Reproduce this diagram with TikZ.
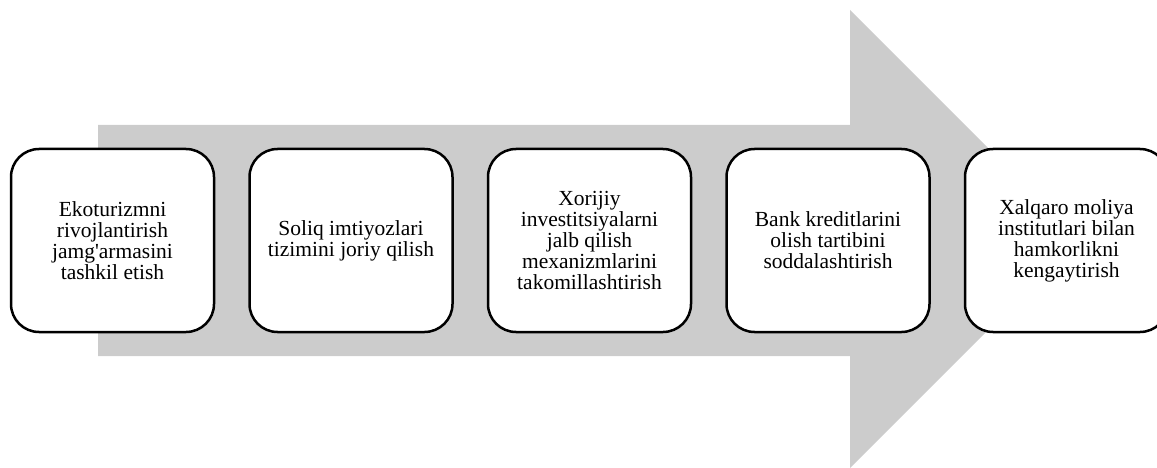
\documentclass[tikz,border=0pt]{standalone}
\usepackage{fontspec}
\setmainfont{Liberation Serif}
\usetikzlibrary{positioning}

\begin{document}
\begin{tikzpicture}[x=1pt, y=-1pt, node distance=33pt,
  stepbox/.style={rectangle, draw, line width=2.5pt, rounded corners=28pt, fill=white,
    minimum width=203pt, minimum height=183pt, align=center,
    font=\fontsize{21.5}{21}\selectfont}]
\useasboundingbox (0,0) rectangle (1157,468);
\clip (0,0) rectangle (1157,468);
% big background arrow
\fill[gray!40] (98,125) -- (850,125) -- (850,10) -- (1079,239) -- (850,468) -- (850,356) -- (98,356) -- cycle;

\node[stepbox] (fund) at (112.5,240.5) {Ekoturizmni\\rivojlantirish\\jamg\textquotesingle armasini\\tashkil etish};
\node[stepbox, right=of fund] (tax) {Soliq imtiyozlari\\tizimini joriy qilish};
\node[stepbox, right=of tax] (invest) {Xorijiy\\investitsiyalarni\\jalb qilish\\mexanizmlarini\\takomillashtirish};
\node[stepbox, right=of invest] (credit) {Bank kreditlarini\\olish tartibini\\soddalashtirish};
\node[stepbox, right=of credit] (intl) {Xalqaro moliya\\institutlari bilan\\hamkorlikni\\kengaytirish};
\end{tikzpicture}
\end{document}
